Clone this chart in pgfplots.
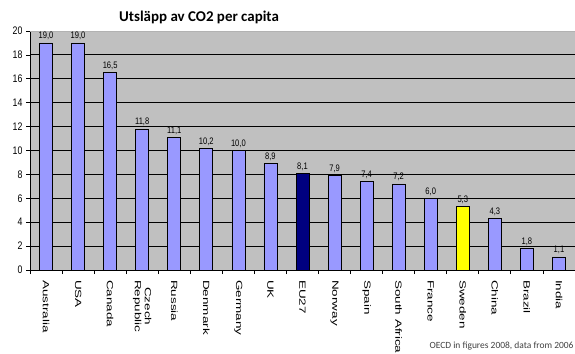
\documentclass[border=0pt]{standalone}
\usepackage{pgfplots}
\pgfplotsset{compat=1.18}
\usepackage{fontspec}
\setmainfont{Liberation Sans}
\newfontfamily\tickfont[FakeStretch=0.8]{Liberation Sans}
\newfontfamily\labfont[FakeStretch=1.5]{Liberation Sans}
\newfontfamily\calib{Carlito}
\definecolor{bg}{HTML}{C0C0C0}
\definecolor{barblue}{HTML}{9999FF}
\definecolor{navyb}{HTML}{000080}
\definecolor{yel}{HTML}{FFFF00}
\begin{document}
\begin{tikzpicture}
\useasboundingbox (-30bp,-84bp) rectangle (545bp,270bp);
\begin{axis}[
  at={(0,0)}, anchor=south west,
  scale only axis, width=545bp, height=239bp,
  xmin=0.5, xmax=17.5, ymin=0, ymax=20,
  axis background/.style={fill=bg},
  axis x line=bottom, axis y line=left,
  axis line style={-, black, line width=0.8pt},
  ytick={0,2,...,20},
  ymajorgrids, grid style={black, line width=1pt},
  tick align=outside,
  major tick length=4bp, minor tick length=4bp,
  xtick={1,...,17},
  xticklabels={Australia,USA,Canada,Czech\\Republic,Russia,Denmark,Germany,UK,EU27,Norway,Spain,South Africa,France,Sweden,China,Brazil,India},
  major x tick style={draw=none},
  minor xtick={0.5,1.5,...,17.5},
  minor x tick style={black, line width=0.8pt},
  y tick style={black, line width=0.8pt},
  /pgf/number format/assume math mode=true,
  x tick label style={rotate=-90, anchor=west, font=\labfont\fontsize{9}{10}\selectfont, align=center, inner xsep=6pt, inner ysep=1pt},
  y tick label style={font=\tickfont\fontsize{11}{11}\selectfont},
  ybar, bar width=13bp,
  nodes near coords={\pgfmathprintnumber[fixed,fixed zerofill,precision=1,use comma]{\pgfplotspointmeta}},
  every node near coord/.append style={font=\tickfont\fontsize{9.5}{10}\selectfont, black, inner sep=2.5pt},
  clip=false,
]
\addplot[bar shift=0pt, fill=barblue, draw=black, line width=0.7pt] coordinates {
  (1,19.0) (2,19.0) (3,16.5) (4,11.8) (5,11.1) (6,10.2) (7,10.0) (8,8.9)
  (10,7.9) (11,7.4) (12,7.2) (13,6.0) (15,4.3) (16,1.8) (17,1.1)};
\addplot[bar shift=0pt, fill=navyb, draw=black, line width=0.7pt] coordinates {(9,8.1)};
\addplot[bar shift=0pt, fill=yel, draw=black, line width=0.7pt] coordinates {(14,5.3)};
\draw[gray!60, line width=1pt] (axis cs:0.5,20) -- (axis cs:17.5,20);
\end{axis}
\node[font=\calib\bfseries\fontsize{15}{17}\selectfont] at (199bp-30bp,253bp) {Utsläpp av CO2 per capita};
\node[anchor=east, font=\calib\fontsize{9.5}{11}\selectfont, text=black!75] at (547bp,-76bp) {OECD in figures 2008, data from 2006};
\end{tikzpicture}
\end{document}
